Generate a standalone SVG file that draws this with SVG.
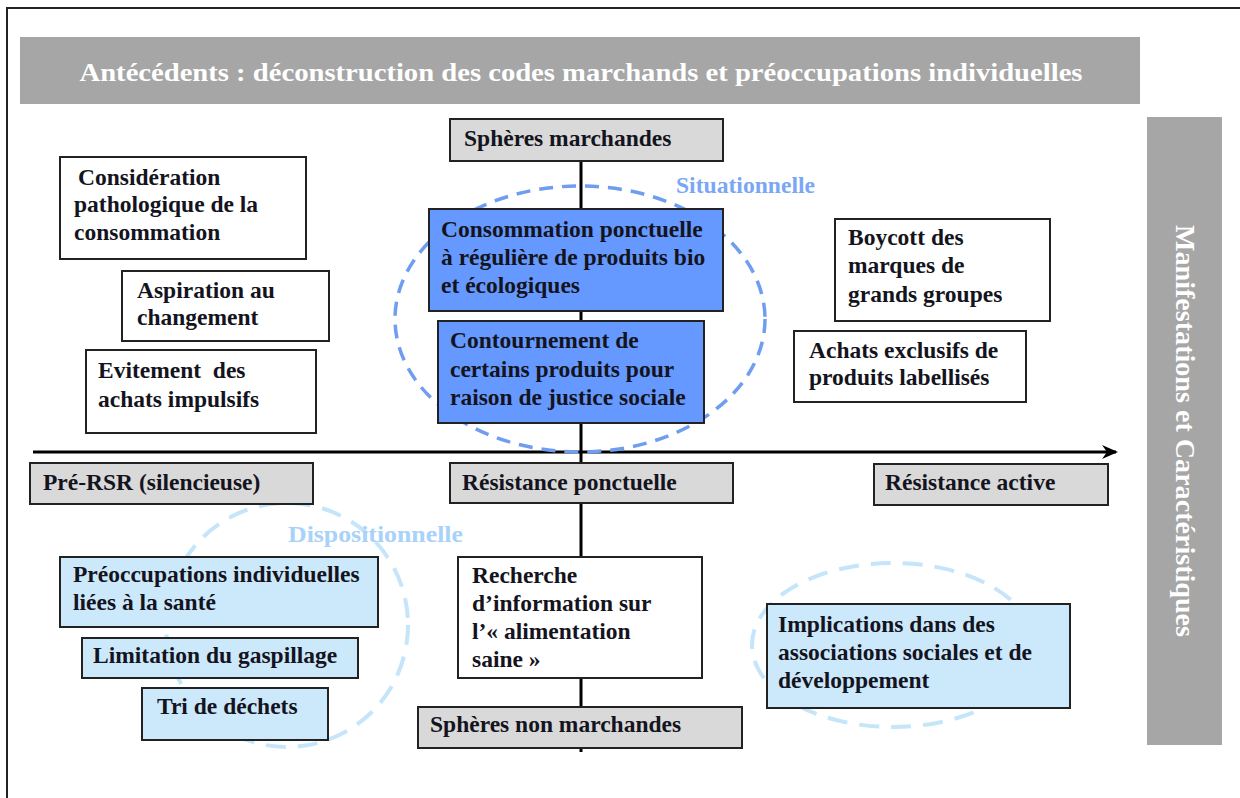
<svg xmlns="http://www.w3.org/2000/svg" width="1240" height="798" viewBox="0 0 1240 798">
<style>
.t{font-family:"Liberation Serif","Times New Roman",serif;font-weight:bold;font-size:23.5px;fill:#141420;}
.box{stroke:#222;stroke-width:2;}
.white{fill:#ffffff;}
.gray{fill:#d9d9d9;}
.blue{fill:#6699ff;}
.lblue{fill:#cce9fc;}
.axis{stroke:#000;stroke-width:3;fill:none;}
</style>
<defs>
<marker id="arrow" markerWidth="16" markerHeight="14" refX="14" refY="7" orient="auto" markerUnits="userSpaceOnUse">
<path d="M0,0 L16,7 L0,14 L5,7 Z" fill="#000"/>
</marker>
</defs>
<rect x="0" y="0" width="1240" height="798" fill="#fff"/>
<path d="M7,798 L7,8 L1240,8" fill="none" stroke="#222" stroke-width="2"/>

<g id="header">
<rect x="20" y="37" width="1120" height="67" fill="#a6a6a6"/>
<text x="581" y="81" text-anchor="middle" class="t" style="fill:#fff;font-size:25px" textLength="1003" lengthAdjust="spacingAndGlyphs">Antécédents : déconstruction des codes marchands et préoccupations individuelles</text>
</g>

<g id="side-bar">
<rect x="1147" y="117" width="75" height="628" fill="#a6a6a6"/>
<g transform="translate(1185,431) rotate(90)">
<text x="0" y="9" text-anchor="middle" style="font-family:'Liberation Serif','Times New Roman',serif;font-weight:bold;font-size:28px;fill:#fff" textLength="412" lengthAdjust="spacingAndGlyphs">Manifestations et Caractéristiques</text>
</g>
</g>

<g id="connectors">
<line class="axis" x1="581" y1="161" x2="581" y2="752"/>
<line class="axis" x1="33" y1="452" x2="1116" y2="452" marker-end="url(#arrow)"/>
</g>

<g id="ellipses">
<ellipse cx="580" cy="319" rx="185" ry="133" fill="none" stroke="#6f9ef0" stroke-width="3.5" stroke-dasharray="14 9"/>
<ellipse cx="287" cy="625" rx="121" ry="122" fill="none" stroke="#c4e5fa" stroke-width="4" stroke-dasharray="20 12"/>
<ellipse cx="893" cy="645" rx="141" ry="82" fill="none" stroke="#c4e5fa" stroke-width="4" stroke-dasharray="20 12"/>
</g>

<g id="spheres-marchandes">
<rect class="box gray" x="450" y="119" width="273" height="42"/>
<text class="t" x="464" y="146">Sphères marchandes</text>
</g>

<g id="consommation">
<rect class="box blue" x="429" y="209" width="294" height="102"/>
<text class="t" x="441" y="237">Consommation ponctuelle</text>
<text class="t" x="441" y="265">à régulière de produits bio</text>
<text class="t" x="441" y="293">et écologiques</text>
</g>

<g id="contournement">
<rect class="box blue" x="438" y="321" width="266" height="102"/>
<text class="t" x="450" y="348">Contournement de</text>
<text class="t" x="450" y="377">certains produits pour</text>
<text class="t" x="450" y="405">raison de justice sociale</text>
</g>

<g id="consideration">
<rect class="box white" x="60" y="157" width="246" height="102"/>
<text class="t" x="78" y="185">Considération</text>
<text class="t" x="74" y="212">pathologique de la</text>
<text class="t" x="74" y="240">consommation</text>
</g>

<g id="aspiration">
<rect class="box white" x="122" y="271" width="207" height="70"/>
<text class="t" x="137" y="298">Aspiration au</text>
<text class="t" x="137" y="325">changement</text>
</g>

<g id="evitement">
<rect class="box white" x="86" y="350" width="230" height="83"/>
<text class="t" x="98" y="378" xml:space="preserve">Evitement  des</text>
<text class="t" x="98" y="407">achats impulsifs</text>
</g>

<g id="boycott">
<rect class="box white" x="835" y="219" width="215" height="102"/>
<text class="t" x="848" y="245">Boycott des</text>
<text class="t" x="848" y="273">marques de</text>
<text class="t" x="848" y="302">grands groupes</text>
</g>

<g id="achats">
<rect class="box white" x="794" y="331" width="232" height="71"/>
<text class="t" x="809" y="358">Achats exclusifs de</text>
<text class="t" x="809" y="385">produits labellisés</text>
</g>

<g id="pre-rsr">
<rect class="box gray" x="30" y="463" width="283" height="41"/>
<text class="t" x="43" y="490">Pré-RSR (silencieuse)</text>
</g>

<g id="resistance-ponctuelle">
<rect class="box gray" x="450" y="463" width="283" height="40"/>
<text class="t" x="462" y="490">Résistance ponctuelle</text>
</g>

<g id="resistance-active">
<rect class="box gray" x="874" y="464" width="234" height="41"/>
<text class="t" x="885" y="490">Résistance active</text>
</g>

<g id="preoccupations">
<rect class="box lblue" x="60" y="557" width="318" height="70"/>
<text class="t" x="73" y="582">Préoccupations individuelles</text>
<text class="t" x="73" y="610">liées à la santé</text>
</g>

<g id="limitation">
<rect class="box lblue" x="82" y="638" width="276" height="40"/>
<text class="t" x="93" y="663">Limitation du gaspillage</text>
</g>

<g id="tri">
<rect class="box lblue" x="142" y="688" width="186" height="52"/>
<text class="t" x="157" y="714">Tri de déchets</text>
</g>

<g id="recherche">
<rect class="box white" x="458" y="557" width="244" height="121"/>
<text class="t" x="472" y="583">Recherche</text>
<text class="t" x="472" y="611">d’information sur</text>
<text class="t" x="472" y="639">l’« alimentation</text>
<text class="t" x="472" y="667">saine »</text>
</g>

<g id="spheres-non-marchandes">
<rect class="box gray" x="418" y="707" width="324" height="41"/>
<text class="t" x="430" y="732">Sphères non marchandes</text>
</g>

<g id="implications">
<rect class="box lblue" x="767" y="604" width="303" height="104"/>
<text class="t" x="778" y="632">Implications dans des</text>
<text class="t" x="778" y="660">associations sociales et de</text>
<text class="t" x="778" y="688">développement</text>
</g>

<g id="labels">
<text class="t" x="676" y="193" style="fill:#7aa7f5" textLength="139" lengthAdjust="spacingAndGlyphs">Situationnelle</text>
<text class="t" x="288" y="542" style="fill:#a9d2f9" textLength="175" lengthAdjust="spacingAndGlyphs">Dispositionnelle</text>
</g>
</svg>
